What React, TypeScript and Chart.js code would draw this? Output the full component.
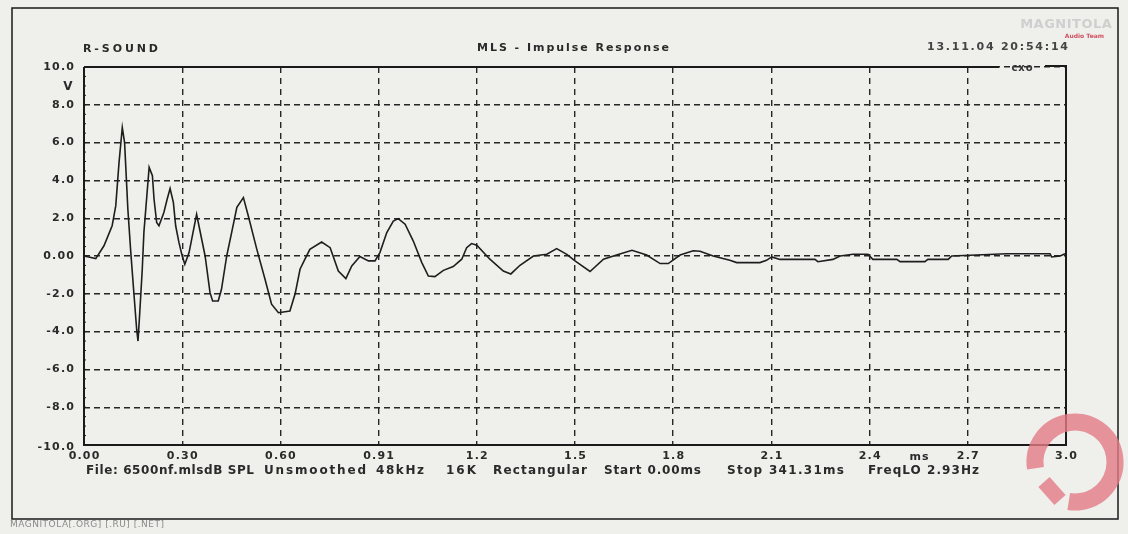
import React, { useEffect, useRef } from "react";
import { Chart, registerables } from "chart.js";

Chart.register(...registerables);

// Impulse response trace (time in ms, amplitude in V)
const timeMs = [
  0.0, 0.036, 0.061, 0.086, 0.097, 0.107, 0.117, 0.124, 0.127, 0.134, 0.143, 0.153, 0.161, 0.165, 0.171,
  0.178, 0.183, 0.192, 0.199, 0.209, 0.214, 0.222, 0.229, 0.244, 0.254, 0.263, 0.273, 0.28, 0.29, 0.3,
  0.308, 0.321, 0.331, 0.344, 0.37, 0.385, 0.393, 0.41, 0.42, 0.436, 0.451, 0.467, 0.487, 0.502, 0.528,
  0.553, 0.573, 0.594, 0.629, 0.645, 0.66, 0.675, 0.69, 0.726, 0.752, 0.777, 0.8, 0.818, 0.843, 0.869,
  0.889, 0.904, 0.925, 0.945, 0.96, 0.981, 1.006, 1.032, 1.052, 1.072, 1.098, 1.128, 1.154, 1.169, 1.184,
  1.2, 1.24, 1.281, 1.304, 1.332, 1.373, 1.414, 1.444, 1.475, 1.5, 1.546, 1.587, 1.627, 1.674, 1.719,
  1.76, 1.785, 1.821, 1.861, 1.882, 1.922, 1.973, 1.994, 2.065, 2.085, 2.101, 2.126, 2.233, 2.242, 2.288,
  2.31, 2.349, 2.395, 2.41, 2.483, 2.493, 2.569, 2.578, 2.64, 2.651, 2.707, 2.819, 2.951, 2.956, 2.982,
  2.997,
];
const voltage = [
  0.0, -0.14, 0.54, 1.6, 2.65, 4.94, 6.8, 6.0, 4.94, 2.47, 0.18, -2.1, -3.9, -4.5, -2.8,
  -0.7, 1.25, 3.19, 4.69, 4.25, 3.0, 1.77, 1.6, 2.3, 3.0, 3.57, 2.84, 1.6, 0.72, 0.0,
  -0.44, 0.18, 1.06, 2.2, 0.0, -1.94, -2.38, -2.38, -1.76, 0.0, 1.24, 2.57, 3.09, 2.12, 0.35,
  -1.23, -2.55, -3.0, -2.91, -2.0, -0.7, -0.17, 0.35, 0.74, 0.44, -0.8, -1.2, -0.53, -0.03, -0.26,
  -0.26, 0.18, 1.24, 1.85, 1.98, 1.68, 0.79, -0.35, -1.06, -1.09, -0.76, -0.56, -0.17, 0.44, 0.66,
  0.57, -0.17, -0.8, -0.95, -0.49, 0.0, 0.09, 0.39, 0.09, -0.26, -0.82, -0.17, 0.05, 0.3, 0.05,
  -0.4, -0.4, 0.05, 0.28, 0.25, 0.0, -0.23, -0.35, -0.35, -0.23, -0.05, -0.18, -0.18, -0.3, -0.18,
  0.0, 0.09, 0.09, -0.18, -0.18, -0.3, -0.3, -0.18, -0.18, 0.0, 0.04, 0.12, 0.12, -0.05, 0.0,
  0.12,
];

const xTickValues = [0, 0.3, 0.6, 0.9, 1.2, 1.5, 1.8, 2.1, 2.4, 2.7, 3.0];
const xTickLabels = ["0.00", "0.30", "0.60", "0.91", "1.2", "1.5", "1.8", "2.1", "2.4", "2.7", "3.0"];
const yTickValues = [10, 8, 6, 4, 2, 0, -2, -4, -6, -8, -10];
const yTickLabels = ["10.0", "8.0", "6.0", "4.0", "2.0", "0.00", "-2.0", "-4.0", "-6.0", "-8.0", "-10.0"];

const headerLeft = "R-SOUND";
const headerTitle = "MLS - Impulse Response";
const headerRight = "13.11.04 20:54:14";
const yUnit = "V";
const xUnit = "ms";
const cornerTag = "cxo";
const footerItems = [
  "File: 6500nf.mlsdB SPL",
  "Unsmoothed",
  "48kHz",
  "16K",
  "Rectangular",
  "Start 0.00ms",
  "Stop 341.31ms",
  "FreqLO 2.93Hz",
];
const watermark = "MAGNITOLA[.ORG] [.RU] [.NET]";

const W = 1128;
const H = 534;
const FONT = '"DejaVu Sans", sans-serif';
const INK = "#2a2a2a";

function txt(ctx: CanvasRenderingContext2D, s: string, x: number, y: number, align: CanvasTextAlign, size: number, color: string, spacing: number, weight = "bold") {
  ctx.save();
  ctx.font = `${weight} ${size}px ${FONT}`;
  (ctx as any).letterSpacing = `${spacing}px`;
  ctx.fillStyle = color;
  ctx.textBaseline = "middle";
  let xx = x;
  const w = ctx.measureText(s).width - spacing;
  if (align === "center") xx = x - w / 2;
  else if (align === "right") xx = x - w;
  ctx.textAlign = "left";
  ctx.fillText(s, xx, y);
  ctx.restore();
}

// draw text stretched (by letter spacing) to span x0..x1
function txtSpan(ctx: CanvasRenderingContext2D, s: string, x0: number, x1: number, y: number, size: number, color: string) {
  ctx.save();
  ctx.font = `bold ${size}px ${FONT}`;
  (ctx as any).letterSpacing = "0px";
  const w = ctx.measureText(s).width;
  const sp = Math.max(-1, (x1 - x0 - w) / Math.max(1, s.length - 1));
  ctx.restore();
  txt(ctx, s, x0, y, "left", size, color, sp);
}

const decor = {
  id: "decor",
  beforeDraw(chart: any) {
    const ctx = chart.ctx as CanvasRenderingContext2D;
    ctx.save();
    ctx.fillStyle = "#efefec";
    ctx.fillRect(0, 0, W, H);
    ctx.restore();
  },
  afterDraw(chart: any) {
    const ctx = chart.ctx as CanvasRenderingContext2D;
    const a = chart.chartArea;
    const xs = chart.scales.x;
    const ys = chart.scales.y;

    // plot frame
    ctx.save();
    ctx.strokeStyle = "#1a1a1a";
    ctx.lineWidth = 2;
    ctx.beginPath();
    ctx.moveTo(a.left, a.top);
    ctx.lineTo(a.left, a.bottom);
    ctx.lineTo(a.right, a.bottom);
    ctx.lineTo(a.right, a.top - 1);
    ctx.lineTo(a.right - 21, a.top - 1);
    ctx.moveTo(a.right - 67, a.top);
    ctx.lineTo(a.left, a.top);
    ctx.stroke();
    // outer page frame
    ctx.lineWidth = 1.5;
    ctx.strokeRect(12, 8, 1106, 511);
    // ruler ticks on left axis
    ctx.lineWidth = 1;
    for (let v = -10; v <= 10; v += 0.5) {
      const py = ys.getPixelForValue(v);
      ctx.beginPath();
      ctx.moveTo(a.left, py);
      ctx.lineTo(a.left + 2, py);
      ctx.stroke();
    }
    ctx.restore();

    // tick labels
    yTickValues.forEach((v, i) => {
      const py = ys.getPixelForValue(v);
      txt(ctx, yTickLabels[i], a.left - 10, py + (i === yTickValues.length - 1 ? 2 : 0), "right", 11, INK, 1.2);
    });
    xTickValues.forEach((v, i) => {
      const px = xs.getPixelForValue(v);
      txt(ctx, xTickLabels[i], px, a.bottom + 11, "center", 11, INK, 1.2);
    });

    // headers & units
    txtSpan(ctx, headerLeft, 83, 158, 49, 11, INK);
    txtSpan(ctx, headerTitle, 477, 669, 48, 11, INK);
    txtSpan(ctx, headerRight, 927, 1068, 47, 11, "#444");
    txt(ctx, yUnit, 68, 87, "center", 12, INK, 0);
    txt(ctx, xUnit, 919, a.bottom + 12, "center", 11, INK, 1);
    txt(ctx, cornerTag, a.right - 44, a.top + 1, "center", 10, "#333", 1);

    const footSpan = [
      [86, 254], [264, 366], [376, 424], [446, 476], [493, 587], [604, 701], [727, 844], [868, 979],
    ];
    footerItems.forEach((s, i) => txtSpan(ctx, s, footSpan[i][0], footSpan[i][1], 471, 12, INK));

    txt(ctx, watermark, 10, 525, "left", 9, "#8a8a8a", 0.5, "normal");

    // top right logo
    txt(ctx, "MAGNITOLA", 1066, 25, "center", 13, "#cfcfcf", 0.5);
    txt(ctx, "Audio Team", 1104, 36, "right", 6, "#d05060", 0);

    // bottom right ring logo
    ctx.save();
    ctx.globalAlpha = 0.8;
    ctx.strokeStyle = "#e47a86";
    ctx.lineWidth = 17;
    ctx.beginPath();
    ctx.arc(1075, 462, 40, Math.PI * 0.95, Math.PI * 0.55 + Math.PI * 2);
    ctx.stroke();
    ctx.lineWidth = 15;
    ctx.beginPath();
    ctx.moveTo(1060, 500);
    ctx.lineTo(1044, 482);
    ctx.stroke();
    ctx.restore();
  },
};

export default function App() {
  const ref = useRef<HTMLCanvasElement | null>(null);
  useEffect(() => {
    document.body.style.margin = "0";
    const canvas = ref.current;
    if (!canvas) return;
    const points = timeMs.map((t, i) => ({ x: t, y: voltage[i] }));
    const chart = new Chart(canvas, {
      type: "line",
      data: {
        datasets: [
          {
            data: points,
            borderColor: "#1e1e1e",
            borderWidth: 1.6,
            pointRadius: 0,
            tension: 0,
            fill: false,
          },
        ],
      },
      options: {
        responsive: false,
        animation: false,
        layout: { padding: { left: 84, top: 67, right: 62, bottom: 89 } },
        plugins: { legend: { display: false }, tooltip: { enabled: false }, title: { display: false } },
        scales: {
          x: {
            type: "linear",
            min: 0,
            max: 3,
            afterBuildTicks: (s: any) => {
              s.ticks = xTickValues.map((v) => ({ value: v }));
            },
            ticks: { display: false },
            grid: { color: "#262626", lineWidth: 1.4, drawTicks: false },
            border: { display: false, dash: [6, 5] },
          },
          y: {
            type: "linear",
            min: -10,
            max: 10,
            afterBuildTicks: (s: any) => {
              s.ticks = yTickValues.map((v) => ({ value: v }));
            },
            ticks: { display: false },
            grid: { color: "#262626", lineWidth: 1.4, drawTicks: false },
            border: { display: false, dash: [6, 4] },
          },
        },
      },
      plugins: [decor],
    });
    return () => chart.destroy();
  }, []);
  return (
    <div style={{ position: "fixed", left: 0, top: 0, width: W, height: H }}>
      <canvas ref={ref} width={W} height={H} style={{ display: "block" }} />
    </div>
  );
}
